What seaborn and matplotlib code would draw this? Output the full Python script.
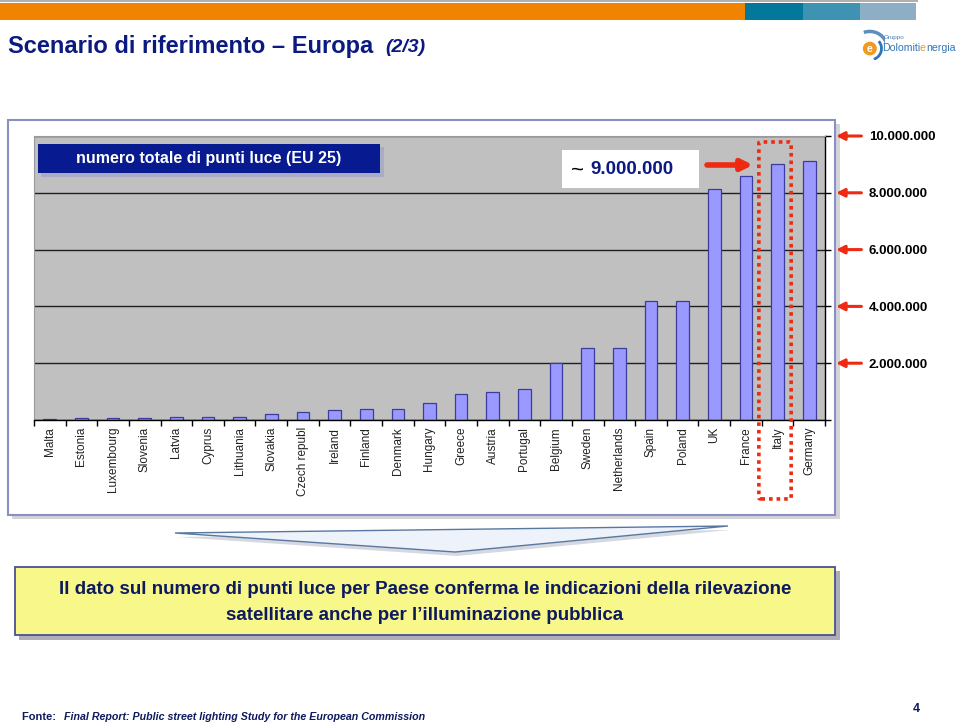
import matplotlib
matplotlib.use("Agg")
import matplotlib.pyplot as plt
import matplotlib.patches as mpatches
import matplotlib.transforms as mtransforms
import seaborn as sns
import numpy as np

# Data (number of street lighting points, EU 25)
countries = ["Malta", "Estonia", "Luxembourg", "Slovenia", "Latvia", "Cyprus",
             "Lithuania", "Slovakia", "Czech republ", "Ireland", "Finland",
             "Denmark", "Hungary", "Greece", "Austria", "Portugal", "Belgium",
             "Sweden", "Netherlands", "Spain", "Poland", "UK", "France",
             "Italy", "Germany"]
light_points = [20000, 60000, 60000, 60000, 100000, 110000, 120000, 210000,
                290000, 350000, 400000, 400000, 610000, 920000, 1000000,
                1080000, 2000000, 2520000, 2520000, 4200000, 4200000,
                8120000, 8590000, 9020000, 9120000]
y_ticks = [0, 2000000, 4000000, 6000000, 8000000, 10000000]
y_tick_labels = ["", "2.000.000", "4.000.000", "6.000.000", "8.000.000", "10.000.000"]

W, H = 960, 726
NAVY = "#0b1a80"
RED = "#ee2a12"

sns.set_theme(style="white")
plt.rcParams["font.family"] = ["Liberation Sans", "DejaVu Sans"]

fig = plt.figure(figsize=(W / 100, H / 100), dpi=100)
fig.patch.set_facecolor("white")


def px_rect(x0, y0, x1, y1, **kw):
    # rectangle in pixel coordinates (origin top-left)
    r = mpatches.Rectangle((x0 / W, 1 - y1 / H), (x1 - x0) / W, (y1 - y0) / H,
                           transform=fig.transFigure, **kw)
    fig.add_artist(r)
    return r


def px_text(x, y, s, **kw):
    return fig.text(x / W, 1 - y / H, s, **kw)


# header band
px_rect(0, 0, 918, 1.5, facecolor="#b0b0b0", edgecolor="none")
px_rect(0, 3, 745, 20, facecolor="#f08300", edgecolor="none")
px_rect(745, 3, 803, 20, facecolor="#04789a", edgecolor="none")
px_rect(803, 3, 860, 20, facecolor="#3e93b3", edgecolor="none")
px_rect(860, 3, 916, 20, facecolor="#8daec4", edgecolor="none")

# title
px_text(8, 47, "Scenario di riferimento – Europa", fontsize=17, fontweight="bold",
        color=NAVY, va="center")
px_text(385, 48, "(2/3)", fontsize=14, fontweight="bold", style="italic",
        color=NAVY, va="center")

# logo
logo_ax = fig.add_axes([857 / W, 1 - 60 / H, 28 / W, 32 / H])
logo_ax.set_xlim(-1.2, 1.2)
logo_ax.set_ylim(-1.2, 1.6)
logo_ax.axis("off")
logo_ax.add_patch(mpatches.Circle((-0.1, -0.2), 0.6, facecolor="#f29a1f", edgecolor="none"))
logo_ax.text(-0.1, -0.22, "e", color="white", fontsize=7.5, fontweight="bold",
             ha="center", va="center")
logo_ax.add_patch(mpatches.Arc((-0.1, -0.2), 2.0, 2.0, theta1=-70, theta2=40,
                               color="#2f76b8", lw=2))
logo_ax.add_patch(mpatches.Arc((-0.1, -0.2), 3.0, 3.0, theta1=20, theta2=110,
                               color="#5c8fc0", lw=2.5))
px_text(884, 37, "Gruppo", fontsize=4.5, color="#4a7fb5", va="center")
px_text(882, 48, "Dolomiti", fontsize=7.6, color="#2f76b8", va="center")
px_text(920, 48, "e", fontsize=7.6, color="#f29a1f", va="center")
px_text(926, 48, "nergia", fontsize=7.6, color="#2f76b8", va="center")

# chart frame with shadow (drawn below the axes)
px_rect(12, 124, 840, 519, facecolor="#c8c8d0", edgecolor="none", alpha=0.8, zorder=-3)
px_rect(8, 120, 835, 515, facecolor="white", edgecolor="#8a8fc4", linewidth=1.5, zorder=-2)

# bar chart
ax = fig.add_axes([34 / W, 1 - 420 / H, (825 - 34) / W, (420 - 136) / H])
ax.set_facecolor("#c0c0c0")
sns.barplot(x=countries, y=light_points, color="#9999ff", saturation=1,
            edgecolor="#3c3c9c", linewidth=0.9, width=0.4, ax=ax)
ax.set_xlim(-0.5, len(countries) - 0.5)
ax.set_ylim(0, 10000000)
ax.yaxis.tick_right()
ax.set_yticks(y_ticks)
ax.set_yticklabels(y_tick_labels)
ax.grid(axis="y", color="#202020", linewidth=1)
ax.set_axisbelow(True)
ax.tick_params(axis="y", which="major", direction="out", length=4, width=1,
               color="black", pad=27.5, labelsize=9.5, labelcolor="black")
for lbl in ax.get_yticklabels():
    lbl.set_fontweight("bold")
ax.set_xticks(range(len(countries)))
ax.set_xticklabels(countries, rotation=90, fontsize=8.5, color="#222222")
ax.set_xticks(np.arange(-0.5, len(countries), 1), minor=True)
ax.tick_params(axis="x", which="major", length=0, pad=5)
ax.tick_params(axis="x", which="minor", direction="out", length=4, width=1,
               color="black", bottom=True)
ax.set_xlabel("")
ax.set_ylabel("")
for side in ["left", "top"]:
    ax.spines[side].set_color("#9a9a9a")
    ax.spines[side].set_linewidth(0.8)
for side in ["bottom", "right"]:
    ax.spines[side].set_color("black")
    ax.spines[side].set_linewidth(1)

# red arrows pointing at the value scale
trans = mtransforms.blended_transform_factory(ax.transAxes, ax.transData)
for v in y_ticks[1:]:
    ax.annotate("", xy=(1.014, v), xytext=(1.046, v), xycoords=trans,
                textcoords=trans, annotation_clip=False,
                arrowprops=dict(arrowstyle="-|>", color=RED, lw=2.2,
                                mutation_scale=12, shrinkA=0, shrinkB=0))

# dotted highlight around Italy
it = countries.index("Italy")
ax.add_patch(mpatches.FancyBboxPatch((it - 0.59, -2780000), 1.02, 12570000,
                                     boxstyle="round,pad=0,rounding_size=0.08",
                                     mutation_aspect=400000,
                                     fill=False, edgecolor=RED, linewidth=2.6,
                                     linestyle=(0, (1, 1.1)), clip_on=False,
                                     zorder=5))

# legend-like title box with shadow
px_rect(41, 147, 384, 177, facecolor="#9aa0c8", edgecolor="none", alpha=0.6)
px_rect(38, 144, 380, 173, facecolor="#071a8f", edgecolor="none")
px_text(209, 159, "numero totale di punti luce (EU 25)", fontsize=11.5,
        fontweight="bold", color="white", ha="center", va="center")

# approx value box for Italy
px_rect(562, 150, 699, 188, facecolor="white", edgecolor="none")
px_text(571, 170, "~", fontsize=16, color="black", va="center")
px_text(590, 170, "9.000.000", fontsize=13.5, fontweight="bold", color=NAVY,
        va="center")
fig.add_artist(mpatches.FancyArrowPatch((707 / W, 1 - 165 / H), (753 / W, 1 - 165 / H),
                                        transform=fig.transFigure,
                                        arrowstyle="-|>", mutation_scale=16,
                                        color=RED, lw=4, shrinkA=0, shrinkB=0))

# callout wedge
wedge_xy = [(175 / W, 1 - 533 / H), (728 / W, 1 - 526 / H), (455 / W, 1 - 552 / H)]
shadow_xy = [(x + 2 / W, y - 4 / H) for x, y in wedge_xy]
fig.add_artist(mpatches.Polygon(shadow_xy, closed=True, transform=fig.transFigure,
                                facecolor="#d5d8e0", edgecolor="none"))
fig.add_artist(mpatches.Polygon(wedge_xy, closed=True, transform=fig.transFigure,
                                facecolor="#eef3fb", edgecolor="#5878a0", lw=1))

# yellow conclusion box
px_rect(19, 571, 840, 640, facecolor="#9a9aa8", edgecolor="none", alpha=0.8)
px_rect(15, 567, 835, 635, facecolor="#f7f78a", edgecolor="#4a5090", linewidth=1.3)
px_text(425, 590, "Il dato sul numero di punti luce per Paese conferma le indicazioni della rilevazione",
        fontsize=13.5, fontweight="bold", color="#0e1a5e", ha="center", va="center")
px_text(425, 616, "satellitare anche per l’illuminazione pubblica",
        fontsize=13.5, fontweight="bold", color="#0e1a5e", ha="center", va="center")

# footer
px_text(22, 717, "Fonte: ", fontsize=8, fontweight="bold", color="#0e1a5e", va="center")
px_text(64, 717, "Final Report: Public street lighting Study for the European Commission",
        fontsize=7.7, fontweight="bold", style="italic", color="#0e1a5e", va="center")
px_text(913, 709, "4", fontsize=9, fontweight="bold", color="#0e1a5e", va="center")

fig.savefig("out.png", dpi=100)
